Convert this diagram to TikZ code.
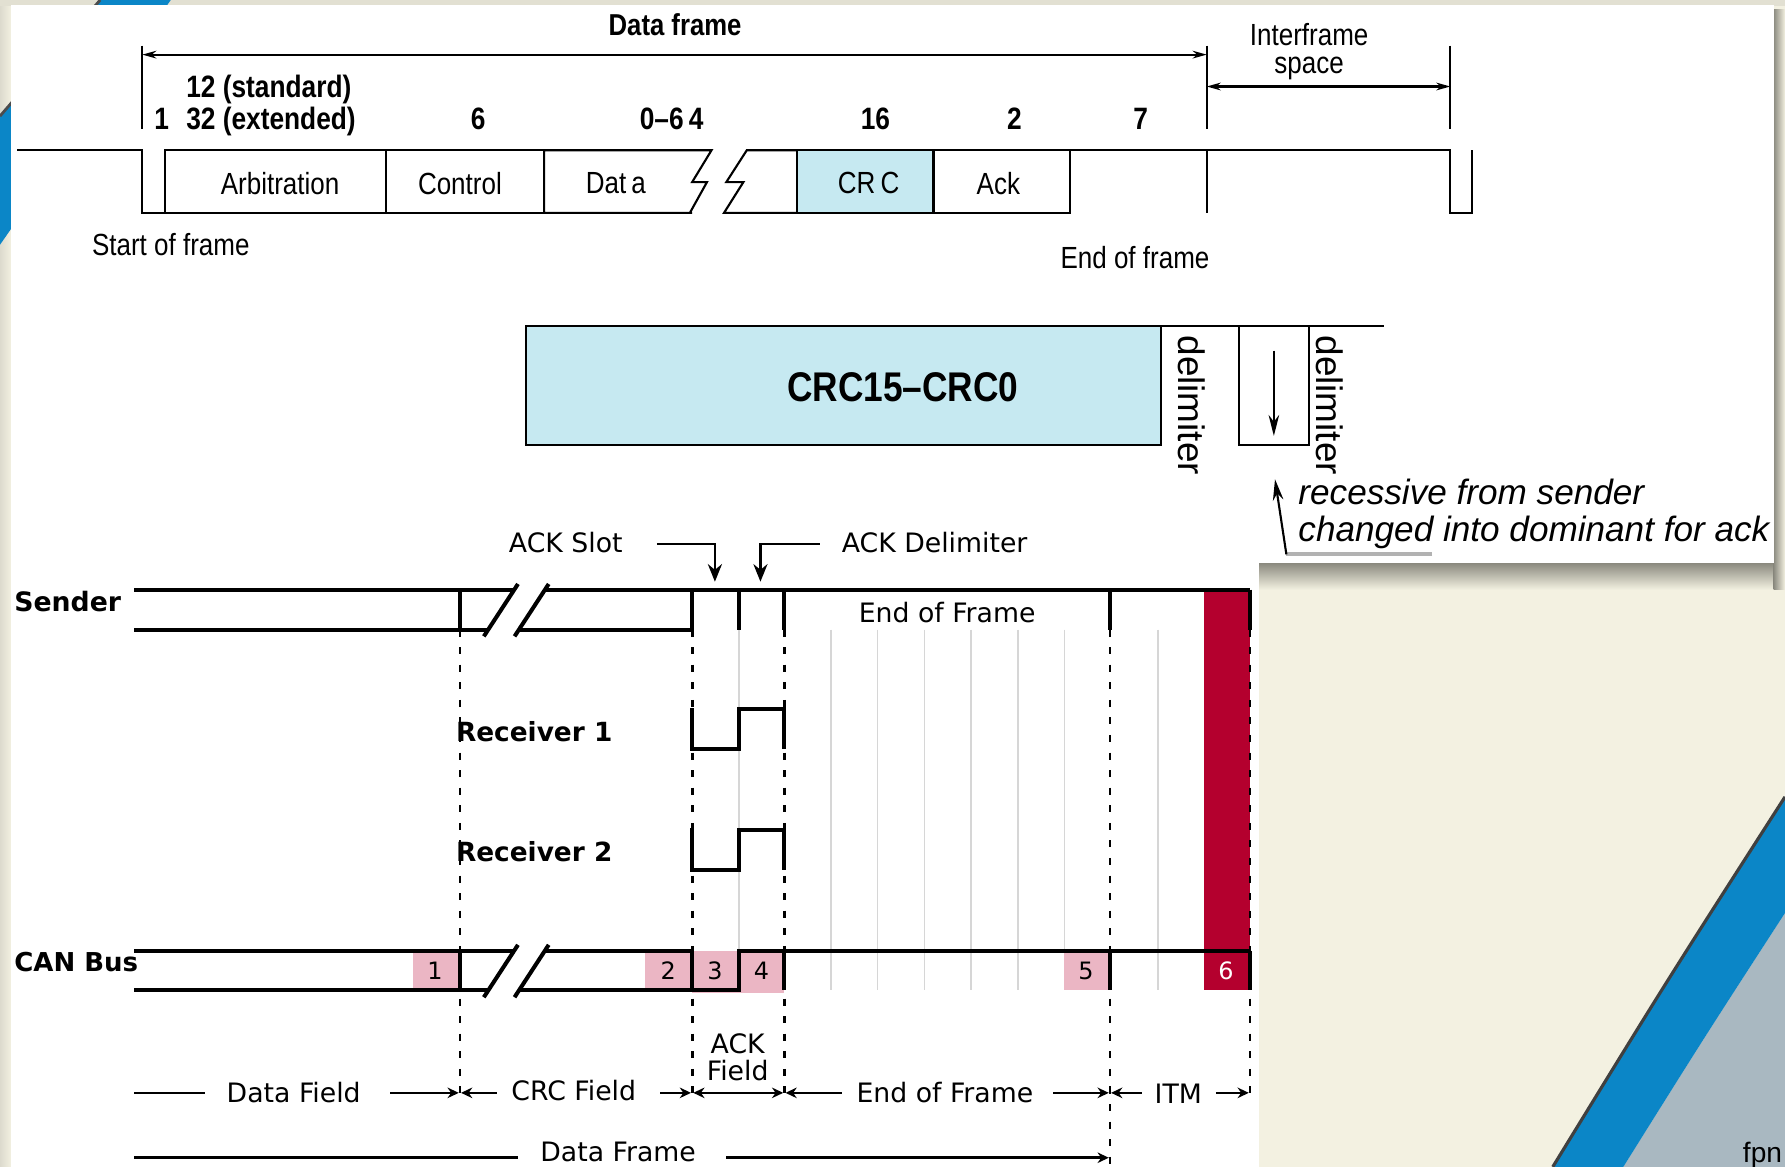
\documentclass[tikz,border=0pt]{standalone}
\usepackage{fontspec}
\usetikzlibrary{arrows.meta}
\newfontfamily\hn[FakeStretch=0.85]{Liberation Sans}
\newfontfamily\hs{Liberation Sans}
\newfontfamily\vd{DejaVu Sans}
\definecolor{bg}{HTML}{F3F1E1}
\definecolor{swblue}{HTML}{0B86C7}
\definecolor{swgray}{HTML}{A9B8C1}
\definecolor{crcfill}{HTML}{C6E9F1}
\definecolor{pinkc}{HTML}{EBB6C4}
\definecolor{redc}{HTML}{B4002E}
\definecolor{gridc}{HTML}{D6D6D6}
\definecolor{shadowc}{HTML}{8C8B80}
\tikzset{
  hlab/.style={font={\hn\fontsize{8.7}{10}\selectfont}, inner sep=0pt},
  hbold/.style={font={\hn\bfseries\fontsize{8.8}{10}\selectfont}, inner sep=0pt},
  vlab/.style={font={\vd\fontsize{7.6}{9}\selectfont}, inner sep=0pt},
  vbold/.style={font={\vd\bfseries\fontsize{7.4}{9}\selectfont}, inner sep=0pt, anchor=west},
  rxbold/.style={font={\vd\bfseries\fontsize{7.5}{9}\selectfont}, inner sep=0pt, anchor=west},
  digit/.style={font={\vd\fontsize{6.8}{8}\selectfont}, inner sep=0pt},
  delim/.style={font={\hs\fontsize{10.5}{12}\selectfont}, inner sep=0pt, rotate=-90},
  note/.style={font={\hs\itshape\fontsize{10}{12}\selectfont}, inner sep=0pt, anchor=west},
  fline/.style={line width=0.6pt},
  sig/.style={line width=1.15pt},
  gridl/.style={line width=0.45pt, gridc},
  dashv/.style={line width=0.8pt, dash pattern=on 2pt off 3pt},
  dimarrow/.style={line width=0.6pt, {Stealth[length=4pt,width=2.2pt]}-{Stealth[length=4pt,width=2.2pt]}},
  tip/.style={line width=0.75pt, -{Stealth[length=3.2pt,width=3pt]}},
  tipl/.style={line width=0.75pt, {Stealth[length=3.2pt,width=3pt]}-},
  tipb/.style={line width=0.75pt, {Stealth[length=3.2pt,width=3pt]}-{Stealth[length=3.2pt,width=3pt]}},
  plain/.style={line width=0.75pt},
}
\begin{document}
\begin{tikzpicture}[x=0.011384cm, y=-0.011384cm]
\useasboundingbox (0,0) rectangle (1568,1025);
% ---------- background ----------
\fill[bg] (0,0) rectangle (1568,1025);
\shade[left color=bg!80!gray, right color=bg] (0,0) rectangle (10,1025);
\fill[bg!85!gray] (0,0) rectangle (1568,5);
\fill[swblue] (88,0) -- (150,0) -- (0,215) -- (0,102) -- cycle;
\draw[black!70, line width=0.8pt] (88,0) -- (0,102);
\fill[swgray] (1568,802) .. controls (1498,910) .. (1426,1025) -- (1568,1025) -- cycle;
\fill[swblue] (1568,700) .. controls (1464,862) .. (1364,1025) -- (1426,1025) .. controls (1498,910) .. (1568,802) -- cycle;
\draw[black!75, line width=0.9pt] (1568,700) .. controls (1464,862) .. (1364,1025);
\node[font={\hs\fontsize{8}{9}\selectfont}, anchor=east, inner sep=0pt] (fpn) at (1566,1015) {fpn};
% shadows and white panels
\shade[top color=shadowc, bottom color=bg] (1106,495) rectangle (1568,518);
\shade[left color=shadowc, right color=bg] (1558,8) rectangle (1568,518);
\fill[white] (10,4) rectangle (1558,495);
\fill[white] (10,460) rectangle (1106,1025);

% ---------- top frame diagram ----------
\node[font={\hn\bfseries\fontsize{8.6}{10}\selectfont}, inner sep=0pt] (dframe) at (593,22) {Data frame};
\draw[fline] (125,40) -- (125,113);
\draw[fline] (1060,40) -- (1060,113);
\draw[fline] (1274,40) -- (1274,113);
\coordinate (dfL) at (125,48);
\coordinate (dfR) at (1060,48);
\draw[dimarrow] (dfL) -- (dfR);
\coordinate (ifL) at (1060,76);
\coordinate (ifR) at (1274,76);
\draw[dimarrow] (ifL) -- (ifR);
\node[hlab, anchor=base] (ifs1) at (1150,40) {Interframe};
\node[hlab, anchor=base] (ifs2) at (1150,65) {space};

\node[hbold] (n1) at (142,104) {1};
\node[hbold, anchor=west] (n12) at (163,79) {12 (standard)};
\node[hbold, anchor=west] (n32) at (163,107) {32 (extended)};
\node[hbold] (n6) at (420,104) {6};
\node[hbold] (n064) at (590,104) {0–6\,4};
\node[hbold] (n16) at (769,104) {16};
\node[hbold] (n2) at (891,104) {2};
\node[hbold] (n7) at (1002,104) {7};

\draw[fline] (15,132) -- (125,132) -- (125,187) -- (145,187);
\draw[fline] (145,132) rectangle (339,187);
\draw[fline] (339,132) rectangle (478,187);
\draw[fline] (608,187) -- (478,187) -- (478,132) -- (625,132) -- (608,160) -- (621,160) -- (606,187);
\draw[fline] (700,132) -- (656,132) -- (638,160) -- (653,160) -- (636,187) -- (700,187);
\filldraw[fline, fill=crcfill] (700,132) rectangle (820,187);
\draw[fline] (820,132) rectangle (940,187);
\draw[fline] (940,132) -- (1274,132) -- (1274,187) -- (1293,187) -- (1293,132);
\draw[fline] (1060,132) -- (1060,187);
\node[hlab] (arb) at (246,161) {Arbitration};
\node[hlab] (ctl) at (404,161) {Control};
\node[hlab] (dat) at (541,161) {Dat\,a};
\node[hlab] (crc) at (763,161) {CR\,C};
\node[hlab] (ack) at (877,161) {Ack};
\node[hlab] (sof) at (150,215) {Start of frame};
\node[hlab] (eof) at (997,226) {End of frame};

% ---------- CRC detail ----------
\filldraw[fline, fill=crcfill] (462,286) rectangle (1020,391);
\draw[fline] (1020,286) -- (1216,286);
\draw[fline] (1088,286) -- (1088,391) -- (1150,391) -- (1150,286);
\coordinate (dnA) at (1119,308);
\coordinate (dnB) at (1119,383);
\draw[fline, -{Stealth[length=6pt,width=3pt]}] (dnA) -- (dnB);
\node[font={\hn\bfseries\fontsize{11.8}{13}\selectfont}, inner sep=0pt] (crcbits) at (793,340) {CRC15–CRC0};
\node[delim] (del1) at (1047,356) {delimiter};
\node[delim] (del2) at (1168,356) {delimiter};
\node[note] (rec1) at (1140,432) {recessive from sender};
\node[note] (rec2) at (1140,468) {changed into dominant for ack};
\coordinate (cbA) at (1258,487);
\coordinate (cbB) at (1130,487);
\coordinate (cbC) at (1120,421);
\draw[line width=1.2pt, black!30] (cbA) -- (cbB);
\draw[fline, -{Stealth[length=6pt,width=3pt]}] (cbB) -- (cbC);

% ---------- timing diagram ----------
\fill[redc] (1058,518) rectangle (1098,870);
\foreach \gx in {649,730,771,812,853,894,935,1017}
  \draw[gridl] (\gx,553) -- (\gx,870);
\fill[pinkc] (363,835) rectangle (404,870);
\fill[pinkc] (567,835) rectangle (608,870);
\fill[pinkc] (608,835) rectangle (649,872);
\fill[pinkc] (649,835) rectangle (689,872);
\fill[pinkc] (935,835) rectangle (975,870);

% dashed guide lines
\draw[dashv] (404,553) -- (404,960);
\draw[dashv] (608,553) -- (608,960);
\draw[dashv] (689,553) -- (689,960);
\draw[dashv] (975,553) -- (975,1025);
\draw[dashv] (1098,553) -- (1098,960);

% sender
\node[vbold, font={\vd\bfseries\fontsize{7.6}{9}\selectfont}] (sender) at (12,528) {Sender};
\draw[sig] (118,518) -- (452,518);
\draw[sig] (118,553) -- (429,553);
\draw[sig] (479,518) -- (1098,518);
\draw[sig] (456,553) -- (608,553);
\draw[sig] (425,559) -- (455,513);
\draw[sig] (452,559) -- (482,513);
\foreach \vx in {404,608,649,689,975,1098}
  \draw[sig] (\vx,518) -- (\vx,553);
\node[vlab] (eofs) at (832,538) {End of Frame};

% ACK pointers
\node[vlab] (ackslot) at (497,477) {ACK Slot};
\node[vlab] (ackdel) at (821,477) {ACK Delimiter};
\coordinate (asA) at (577,478);
\coordinate (asB) at (628,478);
\coordinate (asC) at (628,511);
\draw[plain, -{Stealth[length=5pt,width=4pt]}] (asA) -- (asB) -- (asC);
\coordinate (adA) at (720,478);
\coordinate (adB) at (668,478);
\coordinate (adC) at (668,511);
\draw[plain, -{Stealth[length=5pt,width=4pt]}] (adA) -- (adB) -- (adC);

% receivers
\node[rxbold] (rx1) at (400,643) {Receiver 1};
\draw[sig] (608,622) -- (608,658) -- (649,658) -- (649,623) -- (689,623) -- (689,658);
\node[rxbold] (rx2) at (400,748) {Receiver 2};
\draw[sig] (608,727) -- (608,764) -- (649,764) -- (649,729) -- (689,729) -- (689,764);

% CAN bus
\node[vbold] (canbus) at (12,845) {CAN Bus};
\draw[sig] (118,835) -- (452,835);
\draw[sig] (118,870) -- (429,870);
\draw[sig] (479,835) -- (608,835) -- (608,870);
\draw[sig] (456,870) -- (649,870) -- (649,835) -- (1098,835);
\draw[sig] (425,876) -- (455,830);
\draw[sig] (452,876) -- (482,830);
\foreach \vx in {404,689,975,1098}
  \draw[sig] (\vx,835) -- (\vx,870);
\node[digit] (c1) at (382,853) {1};
\node[digit] (c2) at (587,853) {2};
\node[digit] (c3) at (628,853) {3};
\node[digit] (c4) at (669,853) {4};
\node[digit] (c5) at (954,853) {5};
\node[digit, text=white] (c6) at (1077,853) {6};

% field annotations
\node[vlab] (fdata) at (258,960) {Data Field};
\draw[plain] (118,960) -- (180,960);
\draw[tip] (343,960) -- (403,960);
\node[vlab] (fcrc) at (504,958) {CRC Field};
\draw[tipl] (405,960) -- (437,960);
\draw[tip] (580,960) -- (607,960);
\node[vlab] (fack1) at (648,917) {ACK};
\node[vlab] (fack2) at (648,940) {Field};
\draw[tipb] (609,960) -- (688,960);
\node[vlab] (feof) at (830,960) {End of Frame};
\draw[tipl] (690,960) -- (740,960);
\draw[tip] (925,960) -- (974,960);
\node[vlab] (fitm) at (1035,961) {ITM};
\draw[tipl] (976,960) -- (1003,960);
\draw[tip] (1068,960) -- (1097,960);
\node[vlab] (fframe) at (543,1012) {Data Frame};
\draw[plain] (118,1017) -- (455,1017);
\draw[tip] (638,1017) -- (974,1017);
\end{tikzpicture}
\end{document}
